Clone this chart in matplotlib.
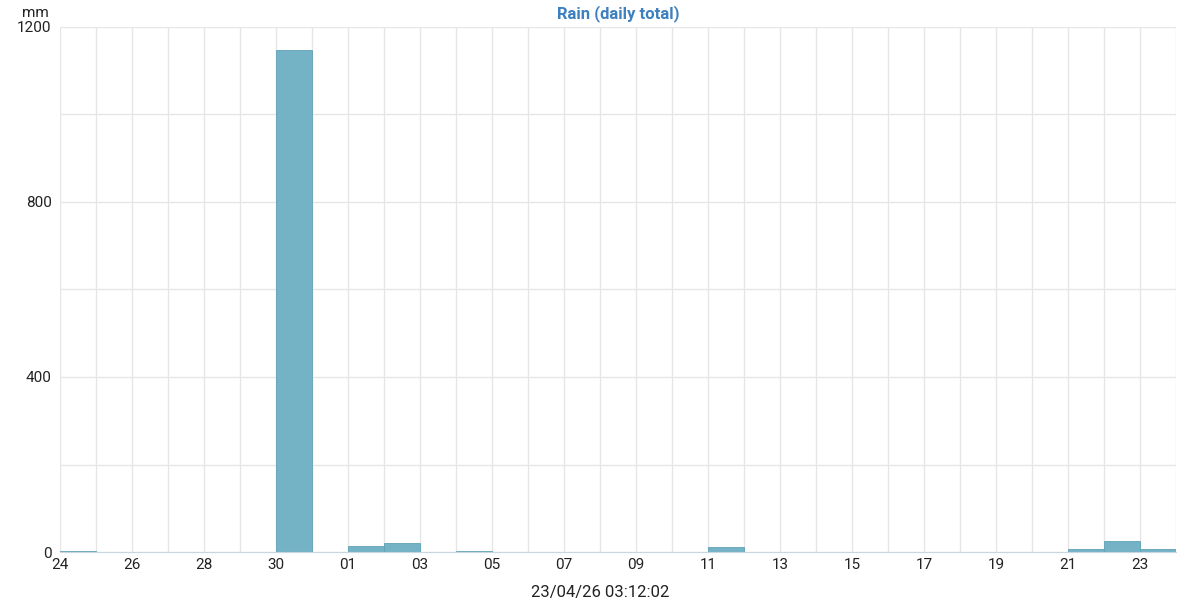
import datetime as dt
import matplotlib
matplotlib.use('Agg')
import matplotlib.pyplot as plt
import matplotlib.dates as mdates
from matplotlib.ticker import MultipleLocator

plt.rcParams['font.family'] = ['Roboto', 'DejaVu Sans']

# daily rain totals, 24 Mar -> 23 Apr 2026
start = dt.date(2026, 3, 24)
days = [start + dt.timedelta(days=i) for i in range(31)]
rain_mm = [1.5, 0, 0, 0.5, 0, 0, 1147, 0.3, 14.5, 20.5, 0.5, 1.2, 0, 0, 0, 0,
           0, 0, 10.5, 0, 0, 0, 0.5, 0.3, 0, 0, 0, 0.3, 7, 26, 7]
stamp = '23/04/26 03:12:02'

fig = plt.figure(figsize=(12, 6), dpi=100)
ax = fig.add_axes([0.05, 0.08, 0.93, 0.875])

ax.bar(days, rain_mm, width=1.0, align='edge', color='#74b2c6',
       edgecolor='#5fa2b8', linewidth=0.6, zorder=3)

ax.set_xlim(mdates.date2num(days[0]), mdates.date2num(days[-1]) + 1)
ax.set_ylim(0, 1200)

ax.xaxis.set_major_locator(mdates.DayLocator(interval=2))
ax.xaxis.set_minor_locator(mdates.DayLocator())
ax.xaxis.set_major_formatter(mdates.DateFormatter('%d'))
ax.yaxis.set_major_locator(MultipleLocator(400))
ax.yaxis.set_minor_locator(MultipleLocator(200))

ax.grid(which='both', color='#e6e6e6', linewidth=1, zorder=0)
for s in ['top', 'right', 'left']:
    ax.spines[s].set_visible(False)
ax.spines['bottom'].set_color('#c8d6e0')
ax.spines['bottom'].set_zorder(4)
ax.tick_params(which='both', length=0, labelsize=11, colors='#222222')
ax.tick_params(axis='x', pad=4)
ax.tick_params(axis='y', pad=6)

ax.set_title('Rain (daily total)', color='#3d80bf', fontsize=12,
             fontweight='bold', pad=6)
fig.text(0.018, 0.978, 'mm', fontsize=11, color='#222222', va='center')
fig.text(0.5, 0.0, stamp, fontsize=12, color='#222222', ha='center', va='bottom')

fig.savefig('out.png', dpi=100)
